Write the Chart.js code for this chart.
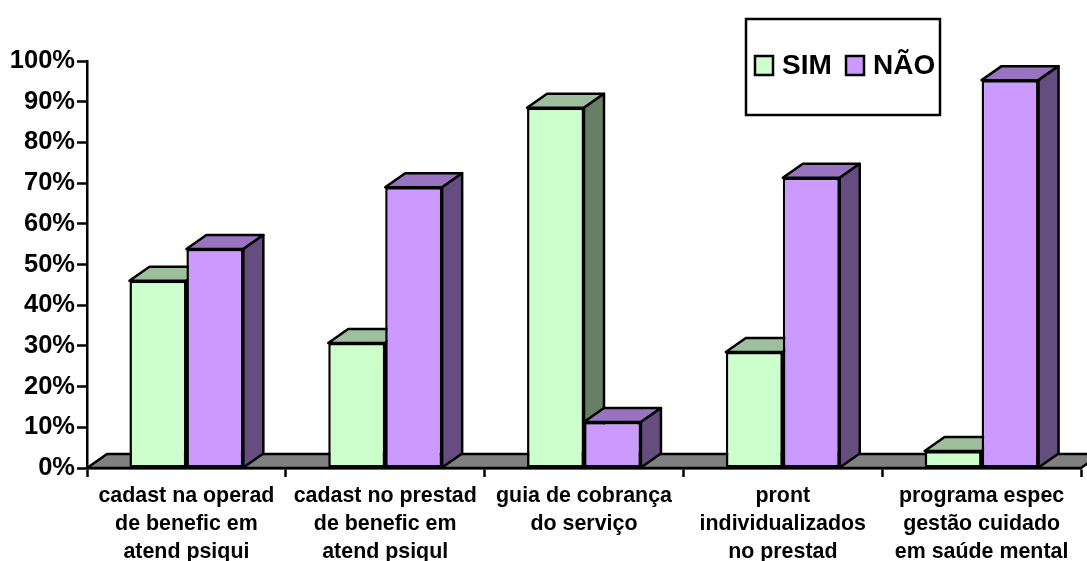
<!DOCTYPE html>
<html>
<head>
<meta charset="utf-8">
<script src="https://cdn.jsdelivr.net/npm/chart.js@4"></script>
<style>
  html, body { margin: 0; padding: 0; background: #fff; }
  canvas { display: block; }
</style>
</head>
<body>
<canvas id="chartCanvas" width="1087" height="561"></canvas>
<script>
"use strict";

const categories = [
  ["cadast na operad", "de benefic em", "atend psiqui"],
  ["cadast no prestad", "de benefic em", "atend psiqul"],
  ["guia de cobrança", "do serviço"],
  ["pront", "individualizados", "no prestad"],
  ["programa espec", "gestão cuidado", "em saúde mental"],
];
const simValues = [46, 30.7, 88.5, 28.5, 4.2];
const naoValues = [53.8, 69, 11.3, 71.3, 95.3];

const DEPTH_X = 20;
const DEPTH_Y = 14;
const LINE = 2.5;
const FONT = "'Liberation Sans', Arial, sans-serif";

function face(ctx, points, color) {
  ctx.beginPath();
  points.forEach((p, i) => (i ? ctx.lineTo(p[0], p[1]) : ctx.moveTo(p[0], p[1])));
  ctx.closePath();
  ctx.fillStyle = color;
  ctx.fill();
  ctx.stroke();
}

// 3D look: floor, then the top and side of each bar, behind the native fronts
const depthPlugin = {
  id: "depth",
  beforeDatasetsDraw(chart) {
    const ctx = chart.ctx;
    const { left, right, bottom } = chart.chartArea;
    ctx.save();
    ctx.strokeStyle = "#000";
    ctx.lineWidth = LINE;
    ctx.lineJoin = "round";
    face(ctx, [
      [left, bottom],
      [left + DEPTH_X, bottom - DEPTH_Y],
      [right + DEPTH_X, bottom - DEPTH_Y],
      [right, bottom],
    ], "#808080");

    chart.data.datasets.forEach((ds, d) => {
      chart.getDatasetMeta(d).data.forEach((bar) => {
        const half = bar.width / 2;
        const l = bar.x - half;
        const r = bar.x + half;
        face(ctx, [
          [l, bar.y],
          [l + DEPTH_X, bar.y - DEPTH_Y],
          [r + DEPTH_X, bar.y - DEPTH_Y],
          [r, bar.y],
        ], ds.topColor);
        face(ctx, [
          [r, bar.y],
          [r + DEPTH_X, bar.y - DEPTH_Y],
          [r + DEPTH_X, bar.base - DEPTH_Y],
          [r, bar.base],
        ], ds.sideColor);
      });
    });
    ctx.restore();
  },
  afterDraw(chart) {
    const ctx = chart.ctx;
    ctx.save();
    ctx.lineWidth = LINE;
    ctx.strokeStyle = "#000";
    ctx.fillStyle = "#fff";
    ctx.fillRect(746, 19, 194, 96);
    ctx.strokeRect(746, 19, 194, 96);

    ctx.font = "bold 28px " + FONT;
    ctx.textBaseline = "middle";
    const items = [
      { swatch: 755, text: 782 },
      { swatch: 846, text: 873 },
    ];
    chart.data.datasets.forEach((ds, i) => {
      ctx.fillStyle = ds.backgroundColor;
      ctx.fillRect(items[i].swatch, 56, 18, 19);
      ctx.strokeRect(items[i].swatch, 56, 18, 19);
      ctx.fillStyle = "#000";
      ctx.fillText(ds.label, items[i].text, 66);
    });
    ctx.restore();
  },
};

new Chart(document.getElementById("chartCanvas").getContext("2d"), {
  type: "bar",
  data: {
    labels: categories,
    datasets: [
      {
        label: "SIM",
        data: simValues,
        backgroundColor: "#CCFFCC",
        topColor: "#9DBF9D",
        sideColor: "#667F66",
      },
      {
        label: "NÃO",
        data: naoValues,
        backgroundColor: "#CC99FF",
        topColor: "#9973BF",
        sideColor: "#664D7F",
      },
    ],
  },
  options: {
    responsive: false,
    animation: false,
    layout: { padding: { top: 61, right: 6, left: 0, bottom: 0 } },
    datasets: {
      bar: {
        categoryPercentage: 0.573,
        barPercentage: 1,
        borderColor: "#000",
        borderWidth: LINE,
        borderSkipped: false,
      },
    },
    plugins: {
      legend: { display: false },
      tooltip: { enabled: false },
    },
    scales: {
      x: {
        afterFit: (scale) => { scale.height = 93; },
        border: { color: "#000", width: LINE },
        grid: {
          offset: true,
          drawOnChartArea: false,
          tickColor: "#000",
          tickWidth: LINE,
          tickLength: 9,
        },
        ticks: {
          color: "#000",
          maxRotation: 0,
          autoSkip: false,
          padding: 5,
          font: { family: FONT, weight: "bold", size: 21.4, lineHeight: 1.31 },
        },
      },
      y: {
        min: 0,
        max: 100,
        afterFit: (scale) => { scale.width = 87; },
        border: { color: "#000", width: LINE },
        grid: {
          drawOnChartArea: false,
          tickColor: "#000",
          tickWidth: LINE,
          tickLength: 10,
        },
        ticks: {
          color: "#000",
          stepSize: 10,
          padding: 2,
          callback: (value) => value + "%",
          font: { family: FONT, weight: "bold", size: 25.5 },
        },
      },
    },
  },
  plugins: [depthPlugin],
});
</script>
</body>
</html>
